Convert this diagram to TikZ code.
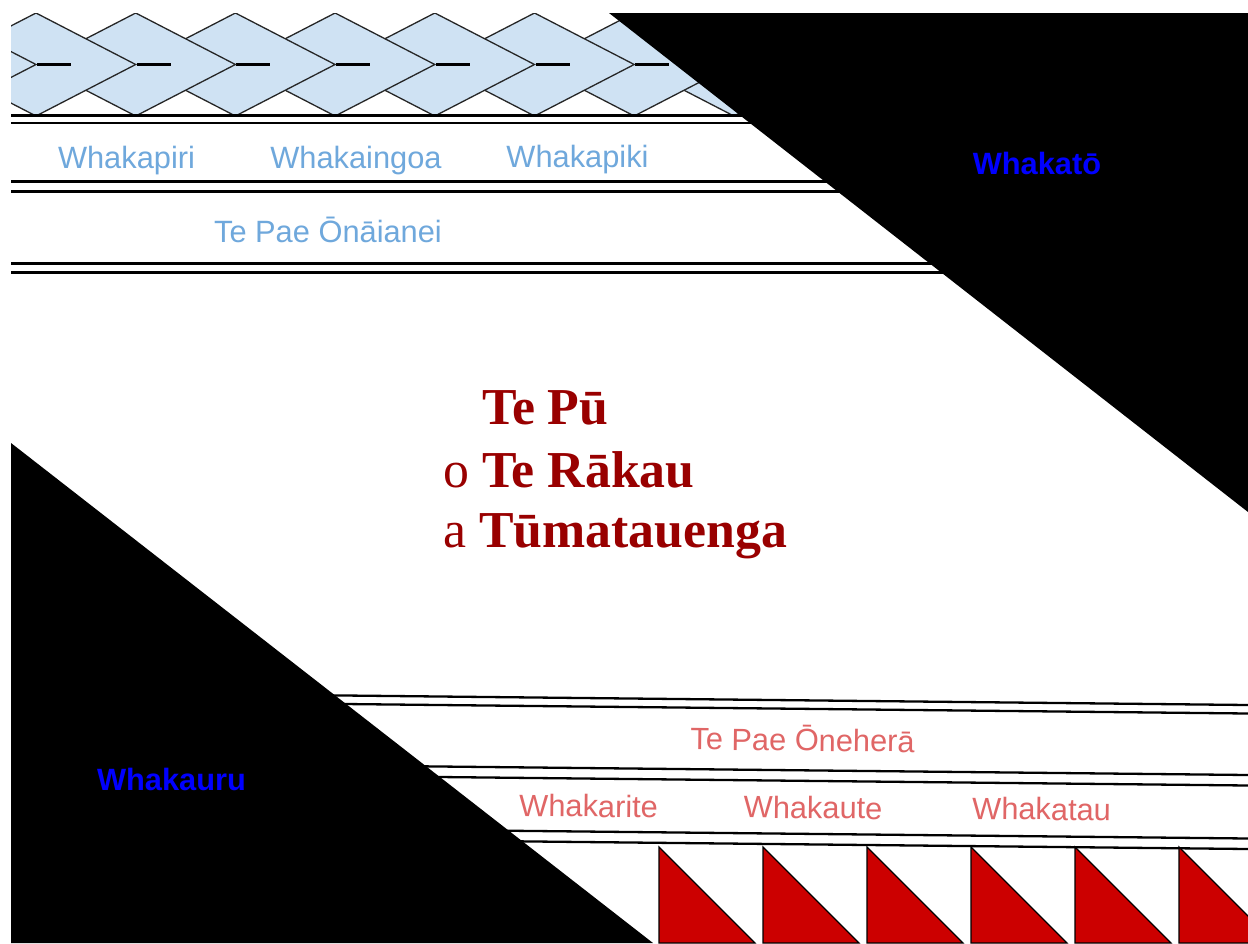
\documentclass[tikz,border=0pt]{standalone}
\usepackage{fontspec}
\setmainfont{Liberation Serif}
\newfontfamily\arialfont{Liberation Sans}
\definecolor{lblue}{HTML}{CFE2F3}
\definecolor{tblue}{HTML}{6FA8DC}
\definecolor{tred}{HTML}{E06666}
\definecolor{dred}{HTML}{990000}
\definecolor{fillred}{HTML}{CC0000}
\definecolor{pureblue}{HTML}{0000FF}
\begin{document}
\begin{tikzpicture}[x=1pt,y=-1pt,
  toplabel/.style={text=tblue, font=\arialfont\fontsize{30.8}{36}\selectfont, anchor=base, inner sep=0pt},
  botlabel/.style={text=tred, font=\arialfont\fontsize{30.8}{36}\selectfont, anchor=base, inner sep=0pt, rotate=-0.6},
  sidelabel/.style={text=pureblue, font=\arialfont\bfseries\fontsize{30.8}{36}\selectfont, anchor=base, inner sep=0pt},
  titleline/.style={text=dred, font=\fontsize{51.8}{60}\selectfont, anchor=base west, inner sep=0pt},
  band/.style={line width=2.3pt, draw=black},
  kite/.style={fill=lblue, draw=black!85, line width=1.3pt, line join=miter},
  tick/.style={line width=2.6pt, draw=black},
  redtri/.style={fill=fillred, draw=black, line width=1.2pt}
]
\useasboundingbox (0,0) rectangle (1248,943);
\fill[white] (0,0) rectangle (1248,943);
\begin{scope}
\clip (11,13) rectangle (1248,943);
% plaited diamond band
\foreach \k in {9,8,...,-1} {
  \pgfmathsetmacro\cx{36+99.7*\k}
  \filldraw[kite] ({\cx-99.7},64.5) -- (\cx,13) -- ({\cx+99.7},64.5) -- (\cx,116) -- cycle;
  \draw[tick] ({\cx+1},64.5) -- ({\cx+35},64.5);
}
% upper double lines
\foreach \y in {115.5,123,181.5,191.5,263.5,272.5}
  \draw[band] (11,\y) -- (1248,\y);
% lower double lines (slightly sloping)
\foreach \y in {705,713.5,775,785.5,838.5,849}
  \draw[band] (11,{\y-13}) -- (1248,\y);
% red triangles
\foreach \x in {659,763,867,971,1075,1179}
  \filldraw[redtri] (\x,847) -- ({\x+96},943) -- (\x,943) -- cycle;
% black corner regions
\fill[black] (609,13) -- (1248,13) -- (1248,512) -- cycle;
\fill[black] (11,443) -- (653,943) -- (11,943) -- cycle;
\end{scope}
% labels
\node[toplabel] (wpiri) at (126.5,168) {Whakapiri};
\node[toplabel] (wingoa) at (356,168) {Whakaingoa};
\node[toplabel] (wpiki) at (577.5,167) {Whakapiki};
\node[toplabel] (paeona) at (328,242) {Te Pae Ōnāianei};
\node[sidelabel] (wto) at (1037,174) {Whakatō};
\node[sidelabel] (wuru) at (171.5,790) {Whakauru};
\node[botlabel] (paeone) at (802.5,751) {Te Pae Ōneherā};
\node[botlabel] (write) at (588.5,817) {Whakarite};
\node[botlabel] (wute) at (813,818.5) {Whakaute};
\node[botlabel] (wtau) at (1041.5,820) {Whakatau};
% title
\node[titleline] (tp1) at (482,424) {\textbf{Te Pū}};
\node[titleline] (tp2) at (443,487) {o \textbf{Te Rākau}};
\node[titleline] (tp3) at (443,547) {a \textbf{Tūmatauenga}};
\end{tikzpicture}
\end{document}
